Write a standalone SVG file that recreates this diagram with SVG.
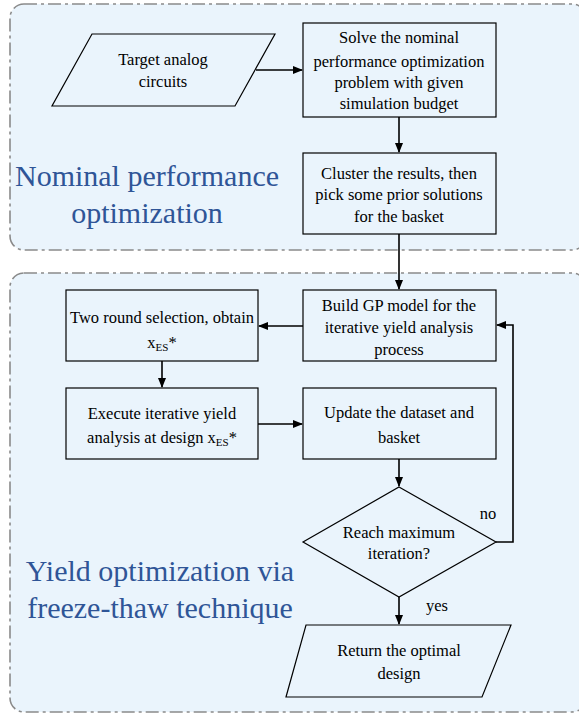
<svg xmlns="http://www.w3.org/2000/svg" width="579" height="715" viewBox="0 0 579 715">
<style>
.panel{fill:#eaf4fc;stroke:#8a8a8a;stroke-width:1.6;stroke-dasharray:13 4 3 4}
.box{fill:#eaf4fc;stroke:#000;stroke-width:1.2}
.t{font-family:'Liberation Serif','Times New Roman','DejaVu Serif',serif;font-size:16.5px;fill:#000;text-anchor:middle}
.big{font-family:'Liberation Serif','Times New Roman','DejaVu Serif',serif;font-size:30px;fill:#2f5597;text-anchor:middle}
.c{fill:none;stroke:#000;stroke-width:1.6}
</style>
<defs>
<marker id="ah" markerWidth="10" markerHeight="8" refX="9" refY="4" orient="auto" markerUnits="userSpaceOnUse">
<path d="M0,0 L10,4 L0,8 z" fill="#000"/>
</marker>
</defs>
<g id="panels">
<rect id="nominal-panel" class="panel" x="10" y="4" width="576" height="246" rx="14"/>
<rect id="yield-panel" class="panel" x="10" y="273" width="576" height="439" rx="14"/>
</g>
<g id="labels" font-family="Liberation Serif, Times New Roman, serif">
<text class="big" x="147" y="186">Nominal performance</text>
<text class="big" x="147" y="223">optimization</text>
<text class="big" x="160" y="581">Yield optimization via</text>
<text class="big" x="160" y="618">freeze-thaw technique</text>
</g>
<g id="connectors" font-family="Liberation Serif, Times New Roman, serif">
<line class="c" x1="256" y1="70" x2="302" y2="70" marker-end="url(#ah)"/>
<line class="c" x1="399" y1="117" x2="399" y2="152" marker-end="url(#ah)"/>
<line class="c" x1="399" y1="234" x2="399" y2="289" marker-end="url(#ah)"/>
<line class="c" x1="303" y1="326" x2="259" y2="326" marker-end="url(#ah)"/>
<line class="c" x1="162" y1="361" x2="162" y2="387" marker-end="url(#ah)"/>
<line class="c" x1="258" y1="424" x2="302" y2="424" marker-end="url(#ah)"/>
<line class="c" x1="399" y1="459" x2="399" y2="486" marker-end="url(#ah)"/>
<polyline class="c" points="496,542 513,542 513,325 497,325" marker-end="url(#ah)"/>
<line class="c" x1="399" y1="597" x2="399" y2="624" marker-end="url(#ah)"/>
<text class="t" x="488" y="519">no</text>
<text class="t" x="437" y="611">yes</text>
</g>
<g id="target" font-family="Liberation Serif, Times New Roman, serif">
<polygon class="box" points="92,34 275,34 235,106 52,106"/>
<text class="t" x="163" y="65">Target analog</text>
<text class="t" x="163" y="87">circuits</text>
</g>
<g id="solve" font-family="Liberation Serif, Times New Roman, serif">
<rect class="box" x="303" y="23" width="193" height="94"/>
<text class="t" x="399" y="43">Solve the nominal</text>
<text class="t" x="399" y="67">performance optimization</text>
<text class="t" x="399" y="88">problem with given</text>
<text class="t" x="399" y="109">simulation budget</text>
</g>
<g id="cluster" font-family="Liberation Serif, Times New Roman, serif">
<rect class="box" x="303" y="153" width="193" height="81"/>
<text class="t" x="399" y="179">Cluster the results, then</text>
<text class="t" x="399" y="200">pick some prior solutions</text>
<text class="t" x="399" y="222">for the basket</text>
</g>
<g id="buildgp" font-family="Liberation Serif, Times New Roman, serif">
<rect class="box" x="303" y="290" width="193" height="71"/>
<text class="t" x="399" y="311">Build GP model for the</text>
<text class="t" x="399" y="333">iterative yield analysis</text>
<text class="t" x="399" y="355">process</text>
</g>
<g id="tworound" font-family="Liberation Serif, Times New Roman, serif">
<rect class="box" x="66" y="290" width="192" height="71"/>
<text class="t" x="162" y="323">Two round selection, obtain</text>
<text class="t" x="162" y="348">x<tspan font-size="11" dy="3">ES</tspan><tspan dy="-3">*</tspan></text>
</g>
<g id="execute" font-family="Liberation Serif, Times New Roman, serif">
<rect class="box" x="66" y="388" width="192" height="71"/>
<text class="t" x="162" y="419">Execute iterative yield</text>
<text class="t" x="162" y="443">analysis at design x<tspan font-size="11" dy="3">ES</tspan><tspan dy="-3">*</tspan></text>
</g>
<g id="update" font-family="Liberation Serif, Times New Roman, serif">
<rect class="box" x="303" y="388" width="193" height="71"/>
<text class="t" x="399" y="418">Update the dataset and</text>
<text class="t" x="399" y="443">basket</text>
</g>
<g id="decision" font-family="Liberation Serif, Times New Roman, serif">
<polygon class="box" points="399,487 496,542 399,597 303,542"/>
<text class="t" x="399" y="538">Reach maximum</text>
<text class="t" x="399" y="559">iteration?</text>
</g>
<g id="return" font-family="Liberation Serif, Times New Roman, serif">
<polygon class="box" points="306,625 511,625 482,697 286,697"/>
<text class="t" x="399" y="656">Return the optimal</text>
<text class="t" x="399" y="679">design</text>
</g>
</svg>
